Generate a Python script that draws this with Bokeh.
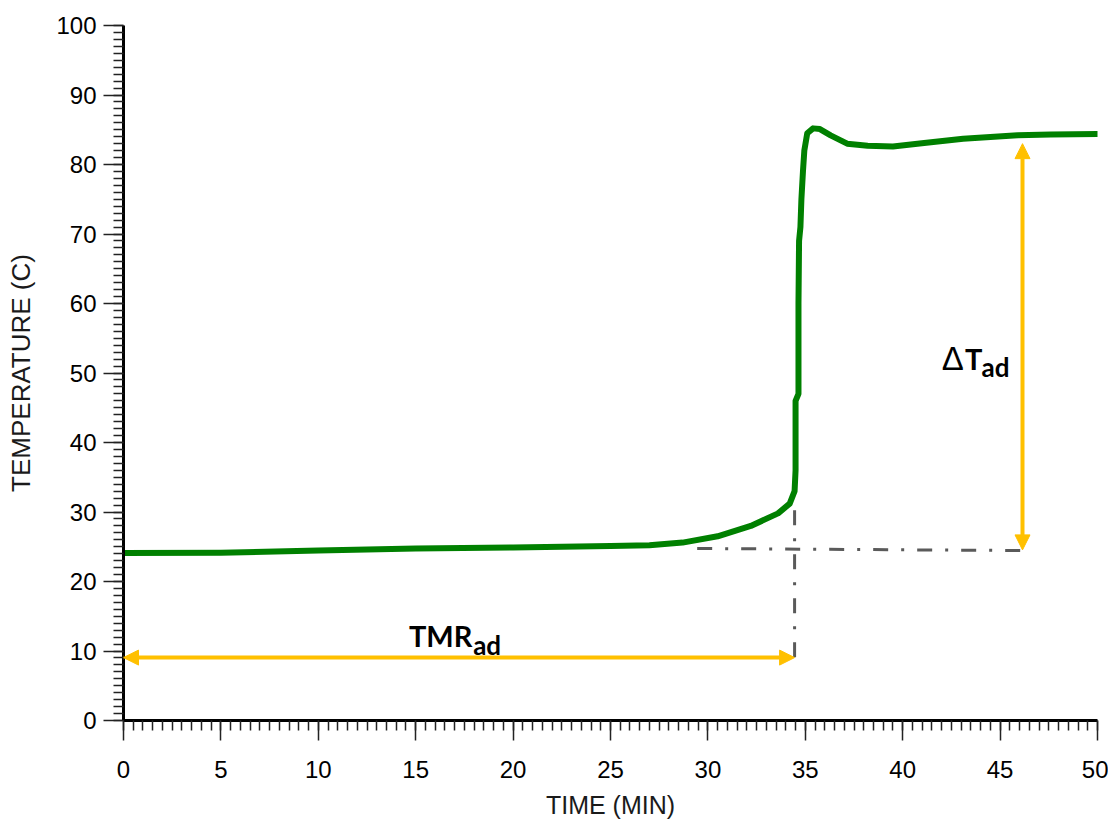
from bokeh.plotting import figure
from bokeh.models import (Range1d, SingleIntervalTicker, Arrow, NormalHead, Label)
from bokeh.embed import file_html
from bokeh.resources import INLINE

# ---- data ----
time_min = [0, 5, 10, 15, 20, 25, 27, 28.7, 30.5, 32.2, 33.6, 34.2, 34.45, 34.5, 34.5,
            34.65, 34.65, 34.68, 34.75, 34.8, 34.88, 34.95, 35.1, 35.4, 35.75, 36.3,
            37.15, 38.2, 39.5, 41.1, 43.1, 45.9, 47.6, 50.0]
temp_c = [24.1, 24.15, 24.45, 24.75, 24.9, 25.1, 25.2, 25.6, 26.5, 28.0, 29.8, 31.2, 33.0, 36.0, 46.0,
          47.0, 60.0, 69.0, 71.0, 75.0, 79.0, 82.0, 84.5, 85.2, 85.1, 84.2,
          83.0, 82.7, 82.6, 83.1, 83.7, 84.2, 84.3, 84.4]

baseline_x = [29.45, 46.2]
baseline_y = [24.75, 24.45]
onset_x = [34.45, 34.45]
onset_y = [9.1, 30.5]

tmr_arrow_x = [0.0, 34.45]
tmr_arrow_y = [9.05, 9.05]
dt_arrow_x = [46.15, 46.15]
dt_arrow_y = [24.55, 83.0]

x_ticks_interval = 5
y_ticks_interval = 10

ORANGE = "#FFC000"
GREEN = "#008000"
GREY = "#5a5a5a"

p = figure(width=1108, height=827, output_backend="svg", toolbar_location=None,
           x_range=Range1d(0, 50), y_range=Range1d(0, 100),
           min_border_left=123, min_border_right=11, min_border_top=25, min_border_bottom=107)
p.outline_line_color = None
p.xgrid.visible = False
p.ygrid.visible = False
p.background_fill_color = "white"
p.border_fill_color = "white"

p.xaxis.ticker = SingleIntervalTicker(interval=x_ticks_interval, num_minor_ticks=10)
p.yaxis.ticker = SingleIntervalTicker(interval=y_ticks_interval, num_minor_ticks=10)

for ax in (p.xaxis[0], p.yaxis[0]):
    ax.axis_line_width = 3
    ax.axis_line_color = "black"
    ax.major_tick_out = 20
    ax.major_tick_in = 0
    ax.minor_tick_out = 10
    ax.minor_tick_in = 0
    ax.major_tick_line_width = 1.5
    ax.minor_tick_line_width = 1.5
    ax.major_tick_line_color = "#222222"
    ax.minor_tick_line_color = "#222222"
    ax.major_label_text_font = "Liberation Sans"
    ax.major_label_text_font_size = "24px"
    ax.major_label_text_color = "black"
    ax.axis_label_text_font = "Liberation Sans"
    ax.axis_label_text_font_style = "normal"
    ax.axis_label_text_color = "#1a1a1a"

p.xaxis.axis_label = "TIME (MIN)"
p.yaxis.axis_label = "TEMPERATURE (C)"
p.xaxis.axis_label_text_font_size = "25px"
p.yaxis.axis_label_text_font_size = "26px"
p.xaxis.major_label_standoff = 20
p.yaxis.major_label_standoff = 7
p.xaxis.axis_label_standoff = 10
p.yaxis.axis_label_standoff = 17

# dash-dot reference lines
p.line(baseline_x, baseline_y, line_color=GREY, line_width=3, line_dash="15 13 3 13")
p.line(onset_x, onset_y, line_color=GREY, line_width=3, line_dash="15 13 3 13")

# main curve
p.line(time_min, temp_c, line_color=GREEN, line_width=6, line_join="round", line_cap="round")

# arrows
def head():
    return NormalHead(size=15, fill_color=ORANGE, line_color=ORANGE, line_width=1)

p.add_layout(Arrow(start=head(), end=head(), x_start=tmr_arrow_x[0], y_start=tmr_arrow_y[0],
                   x_end=tmr_arrow_x[1], y_end=tmr_arrow_y[1], line_color=ORANGE, line_width=4))
p.add_layout(Arrow(start=head(), end=head(), x_start=dt_arrow_x[0], y_start=dt_arrow_y[0],
                   x_end=dt_arrow_x[1], y_end=dt_arrow_y[1], line_color=ORANGE, line_width=4))

# labels
p.add_layout(Label(x=14.65, y=12.23, text="TMR", text_font="Lato", text_font_style="bold",
                   text_font_size="29px", text_color="black", text_baseline="alphabetic"))
p.add_layout(Label(x=17.95, y=10.8, text="ad", text_font="Lato", text_font_style="bold",
                   text_font_size="26px", text_color="black", text_baseline="alphabetic"))
p.add_layout(Label(x=42.0, y=52.09, text="Δ", text_font="Liberation Sans", text_font_style="normal",
                   text_font_size="33px", text_color="black", text_baseline="alphabetic"))
p.add_layout(Label(x=43.2, y=52.09, text="T", text_font="Lato", text_font_style="bold",
                   text_font_size="29px", text_color="black", text_baseline="alphabetic"))
p.add_layout(Label(x=44.05, y=50.8, text="ad", text_font="Lato", text_font_style="bold",
                   text_font_size="26px", text_color="black", text_baseline="alphabetic"))

open("out.html", "w").write(file_html(p, INLINE))
